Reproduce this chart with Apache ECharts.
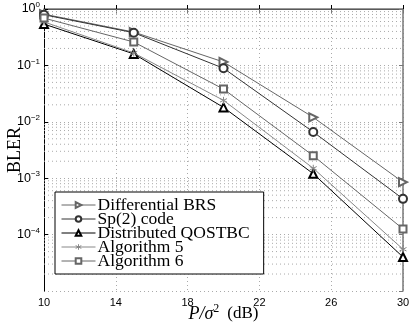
<!DOCTYPE html>
<html>
<head>
<meta charset="utf-8">
<script src="https://cdn.jsdelivr.net/npm/echarts@6/dist/echarts.min.js"></script>
<style>
  html, body { margin: 0; padding: 0; background: #fff; }
  #chart { width: 409px; height: 326px; }
</style>
</head>
<body>
<div id="chart"></div>
<script>
// SNR points (dB)
const snr = [10, 15, 20, 25, 30];

// BLER per scheme
const diffBRS = [0.81, 0.39, 0.115, 0.012, 8.5e-4];
const sp2Code = [0.79, 0.38, 0.089, 0.0066, 4.3e-4];
const qostbc = [0.54, 0.16, 0.018, 0.0012, 4.0e-5];
const algo5 = [0.59, 0.166, 0.024, 0.0015, 5.5e-5];
const algo6 = [0.69, 0.26, 0.038, 0.0025, 1.26e-4];

const ASTERISK = 'path://M0,-10L0,10M-8.7,-5L8.7,5M-8.7,5L8.7,-5';

const GRID_LINE = { color: '#aaa', type: [1, 3], width: 1 };

const pairs = ys => snr.map((x, i) => [x, ys[i]]);

// minor grid lines (2..9 in every decade), drawn on a hidden linear log10 axis
function minorGrid() {
    const out = [];
    for (let e = -5; e < 0; e++) {
        for (let k = 2; k <= 9; k++) {
            const y = e + Math.log10(k);
            out.push([10, y], [30, y], [10, null]);
        }
    }
    return out;
}

function lineSeries(name, data, symbol, color, extra) {
    return Object.assign({
        name: name,
        type: 'line',
        data: pairs(data),
        symbol: symbol,
        symbolSize: 8,
        showSymbol: true,
        lineStyle: { color: color, width: 1 },
        itemStyle: { color: color, borderColor: color, borderWidth: 1 },
        z: 5
    }, extra || {});
}

const chart = echarts.init(document.getElementById('chart'), null, { renderer: 'canvas' });

chart.setOption({
    animation: false,
    backgroundColor: '#fff',
    grid: { left: 44, right: 6, top: 9, bottom: 35, outerBoundsMode: 'none', containLabel: false },
    legend: {
        orient: 'vertical',
        left: 55, top: 192,
        width: 211,
        padding: [4, 14, 4, 6],
        itemGap: -4,
        itemWidth: 34,
        itemHeight: 7,
        backgroundColor: '#fff',
        borderColor: '#000',
        borderWidth: 1,
        borderRadius: 0,
        lineStyle: { width: 1 },
        itemStyle: { borderWidth: 1 },
        textStyle: { fontFamily: 'Liberation Serif', fontSize: 17.5, color: '#000', padding: [0, 0, 0, -3] },
        data: ['Differential BRS', 'Sp(2) code', 'Distributed QOSTBC', 'Algorithm 5', 'Algorithm 6']
    },
    xAxis: [{
        type: 'value',
        min: 10, max: 30, interval: 4,
        axisLine: { lineStyle: { color: '#000', width: 1 } },
        axisTick: { inside: true, length: 4, lineStyle: { color: '#000' } },
        axisLabel: { fontFamily: 'Liberation Sans', fontSize: 11, color: '#000', margin: 6 },
        splitLine: { show: true, lineStyle: GRID_LINE },
        name: '{i|P/σ}{s|2}{n|(dB)}',
        nameLocation: 'middle',
        nameGap: 12,
        nameMoveOverlap: false,
        nameTextStyle: {
            rich: {
                i: { fontFamily: 'Liberation Serif', fontStyle: 'italic', fontSize: 18, color: '#000' },
                s: { fontFamily: 'Liberation Serif', fontSize: 12, color: '#000', verticalAlign: 'top', padding: [0, 8, 10, 0] },
                n: { fontFamily: 'Liberation Serif', fontSize: 17, color: '#000' }
            }
        }
    }, {
        type: 'value', position: 'top',
        min: 10, max: 30, interval: 4,
        axisLine: { show: true, onZero: false, lineStyle: { color: '#777', width: 1.5 } },
        axisTick: { inside: true, length: 4, lineStyle: { color: '#777' } },
        axisLabel: { show: false },
        splitLine: { show: false }
    }],
    yAxis: [{
        type: 'log',
        logBase: 10,
        min: 1e-5, max: 1,
        axisLine: { show: true, lineStyle: { color: '#000', width: 1 } },
        axisTick: { show: true, inside: true, length: 4, lineStyle: { color: '#000' } },
        axisLabel: {
            margin: 4,
            showMinLabel: false,
            formatter: v => {
                const e = Math.round(Math.log10(v));
                return '{b|10}{s|' + (e === 0 ? '0' : '−' + (-e)) + '}';
            },
            rich: {
                b: { fontFamily: 'Liberation Sans', fontSize: 12.5, color: '#000' },
                s: { fontFamily: 'Liberation Sans', fontSize: 8, color: '#000', verticalAlign: 'top', padding: [0, 0, 8, 0] }
            }
        },
        splitLine: { show: true, lineStyle: GRID_LINE },
        name: 'BLER',
        nameLocation: 'middle',
        nameGap: 20,
        nameMoveOverlap: false,
        nameRotate: 90,
        nameTextStyle: { fontFamily: 'Liberation Serif', fontSize: 18, color: '#000' }
    }, {
        type: 'log', position: 'right',
        logBase: 10,
        min: 1e-5, max: 1,
        axisLine: { show: true, onZero: false, lineStyle: { color: '#777', width: 1.5 } },
        axisTick: { show: true, inside: true, length: 4, lineStyle: { color: '#777' } },
        axisLabel: { show: false },
        splitLine: { show: false }
    }, {
        type: 'value', show: false,
        min: -5, max: 0
    }],
    series: [
        {
            name: 'minor-grid',
            type: 'line',
            yAxisIndex: 2,
            data: minorGrid(),
            connectNulls: false,
            symbol: 'none',
            silent: true,
            lineStyle: GRID_LINE,
            z: 1
        },
        lineSeries('Differential BRS', diffBRS, 'emptyTriangle', '#666', { symbolRotate: -90 }),
        lineSeries('Sp(2) code', sp2Code, 'emptyCircle', '#333'),
        lineSeries('Distributed QOSTBC', qostbc, 'emptyTriangle', '#000'),
        lineSeries('Algorithm 5', algo5, ASTERISK, '#888', { symbolSize: 7 }),
        lineSeries('Algorithm 6', algo6, 'emptyRect', '#666', { symbolSize: 7 })
    ]
});
</script>
</body>
</html>
